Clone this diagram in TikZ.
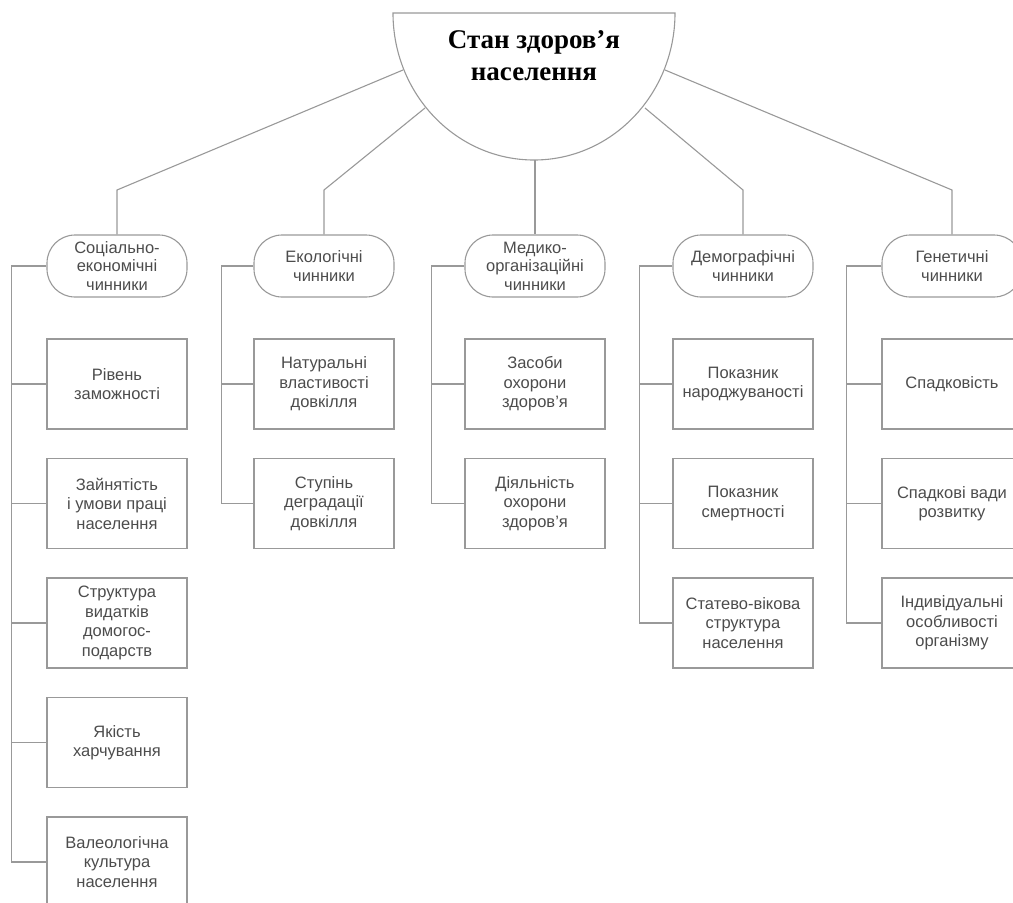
\documentclass[tikz,border=0pt]{standalone}
\usepackage{fontspec}
\setmainfont{Liberation Serif}
\setsansfont{Liberation Sans}
\usetikzlibrary{positioning}

\begin{document}
\begin{tikzpicture}[x=1pt,y=-1pt,
 link/.style={draw=gray!80,line width=1.1pt},
 factor/.style={link,rounded corners=28pt,minimum width=140pt,minimum height=62pt,inner sep=1pt,
   align=center,text=black!70,font=\sffamily\fontsize{16.5}{18.5}\selectfont},
 item/.style={link,minimum width=140pt,minimum height=90pt,inner sep=1pt,
   align=center,text=black!70,font=\sffamily\fontsize{16.5}{19.5}\selectfont}]
\useasboundingbox (0,0) rectangle (1013,903);

% central semicircle
\draw[link,fill=white] (393,13) -- (675,13) arc[start angle=0,end angle=180,x radius=141,y radius=147] -- cycle;
\node[align=center,font=\bfseries\fontsize{27}{32}\selectfont] (health) at (534,56) {Стан здоров’я\\населення};
\coordinate (hub1) at (403,70);
\coordinate (hub2) at (425,108);
\coordinate (hub3) at (535,160);
\coordinate (hub4) at (645,108);
\coordinate (hub5) at (665,70);
\coordinate (knee) at (0,190);

% factor groups
\node[factor] (soc) at (117,266) {Соціально-\\економічні\\чинники};
\node[factor] (eco) at (324,266) {Екологічні\\чинники};
\node[factor] (med) at (535,266) {Медико-\\організаційні\\чинники};
\node[factor] (dem) at (743,266) {Демографічні\\чинники};
\node[factor] (gen) at (952,266) {Генетичні\\чинники};

\draw[link] (hub1) -- (soc.north |- knee) -- (soc.north);
\draw[link] (hub2) -- (eco.north |- knee) -- (eco.north);
\draw[link] (hub3) -- (med.north);
\draw[link] (hub4) -- (dem.north |- knee) -- (dem.north);
\draw[link] (hub5) -- (gen.north |- knee) -- (gen.north);

% items of each group
\foreach \t [count=\k] in {{Рівень\\заможності},{Зайнятість\\і умови праці\\населення},
  {Структура\\видатків\\домогос-\\подарств},{Якість\\харчування},{Валеологічна\\культура\\населення}}
  \node[item] (soc\k) at (117,264.5+119.5*\k) {\t};
\foreach \t [count=\k] in {{Натуральні\\властивості\\довкілля},{Ступінь\\деградації\\довкілля}}
  \node[item] (eco\k) at (324,264.5+119.5*\k) {\t};
\foreach \t [count=\k] in {{Засоби\\охорони\\здоров’я},{Діяльність\\охорони\\здоров’я}}
  \node[item] (med\k) at (535,264.5+119.5*\k) {\t};
\foreach \t [count=\k] in {{Показник\\народжуваності},{Показник\\смертності},{Статево-вікова\\структура\\населення}}
  \node[item] (dem\k) at (743,264.5+119.5*\k) {\t};
\foreach \t [count=\k] in {{Спадковість},{Спадкові вади\\розвитку},{Індивідуальні\\особливості\\організму}}
  \node[item] (gen\k) at (952,264.5+119.5*\k) {\t};

% side spines
\draw[link] (soc.west) -- ++(-35,0) coordinate (socs) |- (soc5.west);
\foreach \k in {1,...,4} \draw[link] (soc\k.west) -- (soc\k.west -| socs);
\draw[link] (eco.west) -- ++(-32,0) coordinate (ecos) |- (eco2.west);
\draw[link] (eco1.west) -- (eco1.west -| ecos);
\draw[link] (med.west) -- ++(-33,0) coordinate (meds) |- (med2.west);
\draw[link] (med1.west) -- (med1.west -| meds);
\draw[link] (dem.west) -- ++(-33,0) coordinate (dems) |- (dem3.west);
\foreach \k in {1,2} \draw[link] (dem\k.west) -- (dem\k.west -| dems);
\draw[link] (gen.west) -- ++(-35,0) coordinate (gens) |- (gen3.west);
\foreach \k in {1,2} \draw[link] (gen\k.west) -- (gen\k.west -| gens);
\end{tikzpicture}
\end{document}
